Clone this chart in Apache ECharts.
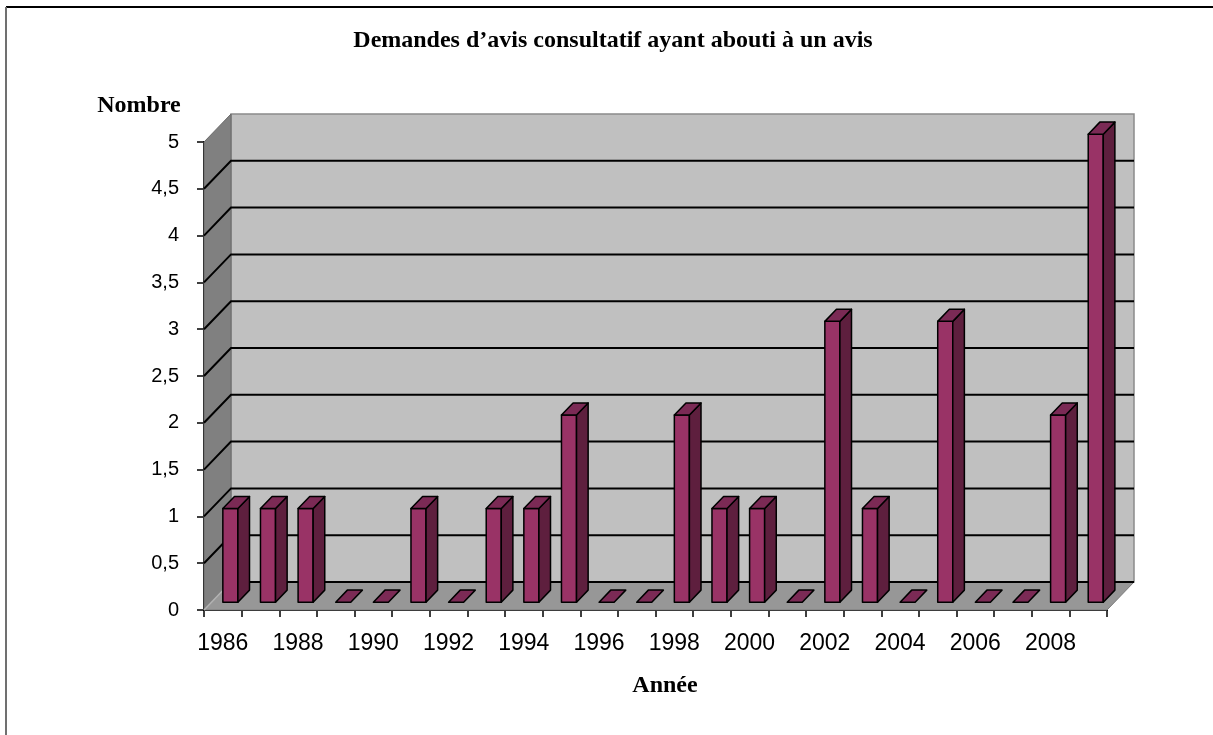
<!DOCTYPE html>
<html>
<head>
<meta charset="utf-8">
<script src="https://cdn.jsdelivr.net/npm/echarts@6/dist/echarts.min.js"></script>
<style>
  html, body { margin: 0; padding: 0; background: #ffffff; }
  #chart { width: 1213px; height: 735px; }
</style>
</head>
<body>
<div id="chart"></div>
<script>
// Years on the category axis
const years = ['1986', '1987', '1988', '1989', '1990', '1991', '1992', '1993',
  '1994', '1995', '1996', '1997', '1998', '1999', '2000', '2001', '2002', '2003',
  '2004', '2005', '2006', '2007', '2008', '2009'];
// Number of advisory requests that led to an opinion, per year
const avis = [1, 1, 1, 0, 0, 1, 0, 1, 1, 2, 0, 0, 2, 1, 1, 0, 3, 1, 0, 3, 0, 0, 2, 5];
// Value-axis ticks
const yTicks = [0, 0.5, 1, 1.5, 2, 2.5, 3, 3.5, 4, 4.5, 5];

const titleText = 'Demandes d\u2019avis consultatif ayant abouti à un avis';
const yAxisTitle = 'Nombre';
const xAxisTitle = 'Année';

// Depth of the pseudo-3D box (pixels in x and y)
const DX = 27, DY = 28;
const Y_MAX = yTicks[yTicks.length - 1];

// Back wall, side wall, floor and gridlines
function renderWalls(params, api) {
  const cs = params.coordSys;
  const x0 = cs.x, x1 = cs.x + cs.width;
  const yBase = api.coord([0, 0])[1];
  const yTop = api.coord([0, Y_MAX])[1];
  const children = [];
  children.push({
    type: 'polygon',
    shape: { points: [[x0 + DX, yTop - DY], [x1 + DX, yTop - DY], [x1 + DX, yBase - DY], [x0 + DX, yBase - DY]] },
    style: { fill: '#c0c0c0', stroke: '#8a8a8a', lineWidth: 1.5 }
  });
  children.push({
    type: 'polygon',
    shape: { points: [[x0, yBase], [x0, yTop], [x0 + DX, yTop - DY], [x0 + DX, yBase - DY]] },
    style: { fill: '#808080', stroke: '#6a6a6a', lineWidth: 1 }
  });
  children.push({
    type: 'polygon',
    shape: { points: [[x0, yBase], [x1, yBase], [x1 + DX, yBase - DY], [x0 + DX, yBase - DY]] },
    style: { fill: '#979797', stroke: '#7a7a7a', lineWidth: 1 }
  });
  yTicks.forEach(function (v) {
    if (v === Y_MAX) return;
    const y = api.coord([0, v])[1];
    if (v === 0) {
      children.push({
        type: 'line',
        shape: { x1: x0, y1: y, x2: x0 + DX, y2: y - DY },
        style: { stroke: '#b4b4b4', lineWidth: 1.5 }
      });
      children.push({
        type: 'line',
        shape: { x1: x0 + DX, y1: y - DY, x2: x1 + DX, y2: y - DY },
        style: { stroke: '#000000', lineWidth: 2 }
      });
      return;
    }
    children.push({
      type: 'polyline',
      shape: { points: [[x0, y], [x0 + DX, y - DY], [x1 + DX, y - DY]] },
      style: { stroke: '#000000', lineWidth: 2, fill: null }
    });
  });
  return { type: 'group', children: children };
}

// One prism per year
function renderBar(params, api) {
  const i = api.value(0);
  const v = api.value(1);
  const band = api.size([1, 0])[0];
  const w = band * 0.4;
  const base = api.coord([i, 0]);
  const peak = api.coord([i, v]);
  const fx = DX * 0.28, fy = DY * 0.28;
  const bx = DX * 0.43, by = DY * 0.43;
  const l = base[0] - w / 2 + fx;
  const r = l + w;
  const b = base[1] - fy;
  const t = peak[1] - fy;
  const edge = { stroke: '#000000', lineWidth: 1.5, lineJoin: 'round' };
  const children = [];
  if (b - t > 0.5) {
    children.push({
      type: 'polygon',
      shape: { points: [[l, t], [r, t], [r, b], [l, b]] },
      style: Object.assign({ fill: '#993366' }, edge)
    });
    children.push({
      type: 'polygon',
      shape: { points: [[r, b], [r, t], [r + bx, t - by], [r + bx, b - by]] },
      style: Object.assign({ fill: '#5e1f3e' }, edge)
    });
  }
  children.push({
    type: 'polygon',
    shape: { points: [[l, t], [r, t], [r + bx, t - by], [l + bx, t - by]] },
    style: Object.assign({ fill: '#7b2a55' }, edge)
  });
  return { type: 'group', children: children };
}

const chart = echarts.init(document.getElementById('chart'), null, { renderer: 'canvas' });

const serifBold = { fontFamily: 'Liberation Serif', fontWeight: 'bold', fontSize: 24, fill: '#000000' };

chart.setOption({
  backgroundColor: '#ffffff',
  animation: false,
  grid: { left: 204, right: 106, top: 142, bottom: 125, containLabel: false },
  xAxis: {
    type: 'category',
    data: years,
    boundaryGap: true,
    axisLine: { show: true, lineStyle: { color: '#000000', width: 2 } },
    axisTick: { show: true, interval: 0, length: 7, lineStyle: { color: '#000000', width: 1.5 } },
    axisLabel: {
      interval: 1,
      margin: 22,
      color: '#000000',
      fontFamily: 'Liberation Sans',
      fontSize: 23
    },
    splitLine: { show: false }
  },
  yAxis: {
    type: 'value',
    min: 0,
    max: Y_MAX,
    interval: 0.5,
    axisLine: { show: true, lineStyle: { color: '#000000', width: 2 } },
    axisTick: { show: true, length: 7, lineStyle: { color: '#000000', width: 1.5 } },
    axisLabel: {
      margin: 25,
      color: '#000000',
      fontFamily: 'Liberation Sans',
      fontSize: 20,
      formatter: function (v) { return String(v).replace('.', ','); }
    },
    splitLine: { show: false }
  },
  graphic: [
    { type: 'line', shape: { x1: 6, y1: 7, x2: 1213, y2: 7 }, style: { stroke: '#000000', lineWidth: 2 } },
    { type: 'line', shape: { x1: 6, y1: 7, x2: 6, y2: 735 }, style: { stroke: '#707070', lineWidth: 2 } },
    {
      type: 'text', x: 613, y: 41,
      style: Object.assign({ text: titleText, textAlign: 'center', textVerticalAlign: 'middle' }, serifBold)
    },
    {
      type: 'text', x: 139, y: 106,
      style: Object.assign({ text: yAxisTitle, textAlign: 'center', textVerticalAlign: 'middle' }, serifBold)
    },
    {
      type: 'text', x: 665, y: 686,
      style: Object.assign({ text: xAxisTitle, textAlign: 'center', textVerticalAlign: 'middle' }, serifBold)
    }
  ],
  series: [
    {
      type: 'custom',
      name: 'walls',
      renderItem: renderWalls,
      data: [[0, 0]],
      encode: { x: 0, y: 1 },
      clip: false,
      silent: true,
      z: 1
    },
    {
      type: 'custom',
      name: 'Avis',
      renderItem: renderBar,
      data: years.map(function (y, i) { return [i, avis[i]]; }),
      encode: { x: 0, y: 1 },
      clip: false,
      z: 2
    }
  ]
});
</script>
</body>
</html>
